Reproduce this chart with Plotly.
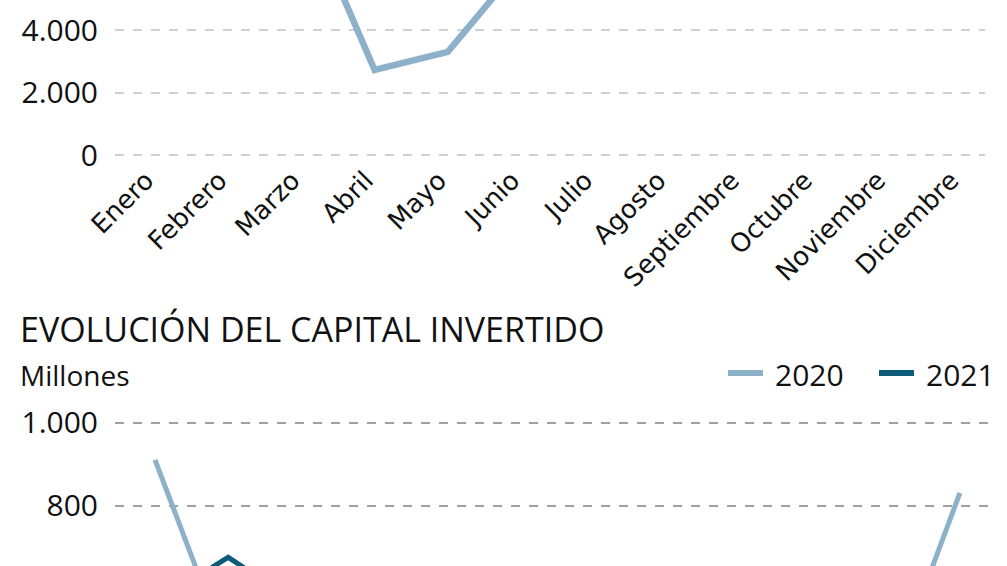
import plotly.graph_objects as go

# --- DATA ---
MESES = ['Enero', 'Febrero', 'Marzo', 'Abril', 'Mayo', 'Junio', 'Julio',
         'Agosto', 'Septiembre', 'Octubre', 'Noviembre', 'Diciembre']

# top chart (2020), only the visible stretch can be read
OPERACIONES_2020 = [None, None, 8150, 2720, 3300, 6100,
                    None, None, None, None, None, None]

# capital invertido, millones
CAPITAL_2020 = [911, 446, None, None, None, None,
                None, None, None, None, 357, 831]
CAPITAL_2021 = [566, 676, 560, None, None, None,
                None, None, None, None, None, None]

TOP_TICKS = [0, 2000, 4000]
TOP_LABELS = ['0', '2.000', '4.000']
BOT_TICKS = [800, 1000]
BOT_LABELS = ['800', '1.000']

SERIES = ['2020', '2021']

# --- STYLE ---
W, H = 1007, 566
C2020 = '#8DB1C8'
C2021 = '#0F5C7A'
FONT = 'Open Sans, Roboto, sans-serif'
LABELS = 'DejaVu Sans, Verdana, sans-serif'


def py(px):
    """pixel from top -> paper fraction"""
    return 1 - px / H


fig = go.Figure()

fig.add_trace(go.Scatter(
    x=list(range(12)), y=OPERACIONES_2020, mode='lines',
    line=dict(color=C2020, width=6.5), showlegend=False,
    xaxis='x', yaxis='y'))

fig.add_trace(go.Scatter(
    x=list(range(12)), y=CAPITAL_2020, mode='lines', name=SERIES[0],
    line=dict(color=C2020, width=5), showlegend=False,
    xaxis='x2', yaxis='y2'))

fig.add_trace(go.Scatter(
    x=list(range(12)), y=CAPITAL_2021, mode='lines', name=SERIES[1],
    line=dict(color=C2021, width=5), showlegend=False,
    xaxis='x2', yaxis='y2'))

fig.update_layout(
    width=W, height=H,
    margin=dict(l=0, r=0, t=0, b=0, autoexpand=False),
    paper_bgcolor='white', plot_bgcolor='white',
    showlegend=False,
    xaxis=dict(domain=[115 / W, 985 / W], range=[-0.547, 11.34], anchor='y',
               tickvals=list(range(12)), ticktext=MESES, automargin=False,
               tickangle=-45, showgrid=False, zeroline=False,
               showline=False, ticks='', ticklabelstandoff=2,
               ticklabelshift=-9,
               tickfont=dict(family=LABELS, size=26, color='#111')),
    yaxis=dict(domain=[py(157), 1], range=[-64, 4960], automargin=False,
               tickvals=TOP_TICKS, ticktext=TOP_LABELS,
               showgrid=True, gridcolor='#d0d0d0', griddash='dash',
               gridwidth=1.5, zeroline=False, showline=False,
               ticklabelstandoff=16,
               tickfont=dict(family=FONT, size=30, color='#111')),
    xaxis2=dict(domain=[115 / W, 995 / W], range=[-0.547, 11.48],
                anchor='y2', showticklabels=False, showgrid=False,
                zeroline=False, showline=False, automargin=False),
    yaxis2=dict(domain=[0, py(410)], range=[655, 1031], automargin=False,
                tickvals=BOT_TICKS, ticktext=BOT_LABELS,
                showgrid=True, gridcolor='#a0a0a0', griddash='dash',
                gridwidth=1.5, zeroline=False, showline=False,
                ticklabelstandoff=16,
                tickfont=dict(family=FONT, size=30, color='#111')),
)

fig.add_annotation(text='EVOLUCIÓN DEL CAPITAL INVERTIDO',
                   xref='paper', yref='paper', x=18 / W, y=py(329),
                   xanchor='left', yanchor='middle', showarrow=False,
                   font=dict(family=FONT, size=34, color='#111'))
fig.add_annotation(text='Millones',
                   xref='paper', yref='paper', x=18 / W, y=py(375),
                   xanchor='left', yanchor='middle', showarrow=False,
                   font=dict(family=FONT, size=28, color='#111'))

# legend drawn by hand: swatch + label
for name, color, x0 in zip(SERIES, [C2020, C2021], [728, 879]):
    fig.add_shape(type='line', xref='paper', yref='paper',
                  x0=x0 / W, x1=(x0 + 35) / W, y0=py(373), y1=py(373),
                  line=dict(color=color, width=6))
    fig.add_annotation(text=name, xref='paper', yref='paper',
                       x=(x0 + 45) / W, y=py(374),
                       xanchor='left', yanchor='middle', showarrow=False,
                       font=dict(family=FONT, size=30, color='#111'))

# the page body has an 8px default margin; drop it so the chart sits at 0,0
fig.write_html("out.html", config={'displayModeBar': False},
               post_script="document.body.style.margin='0px';")
